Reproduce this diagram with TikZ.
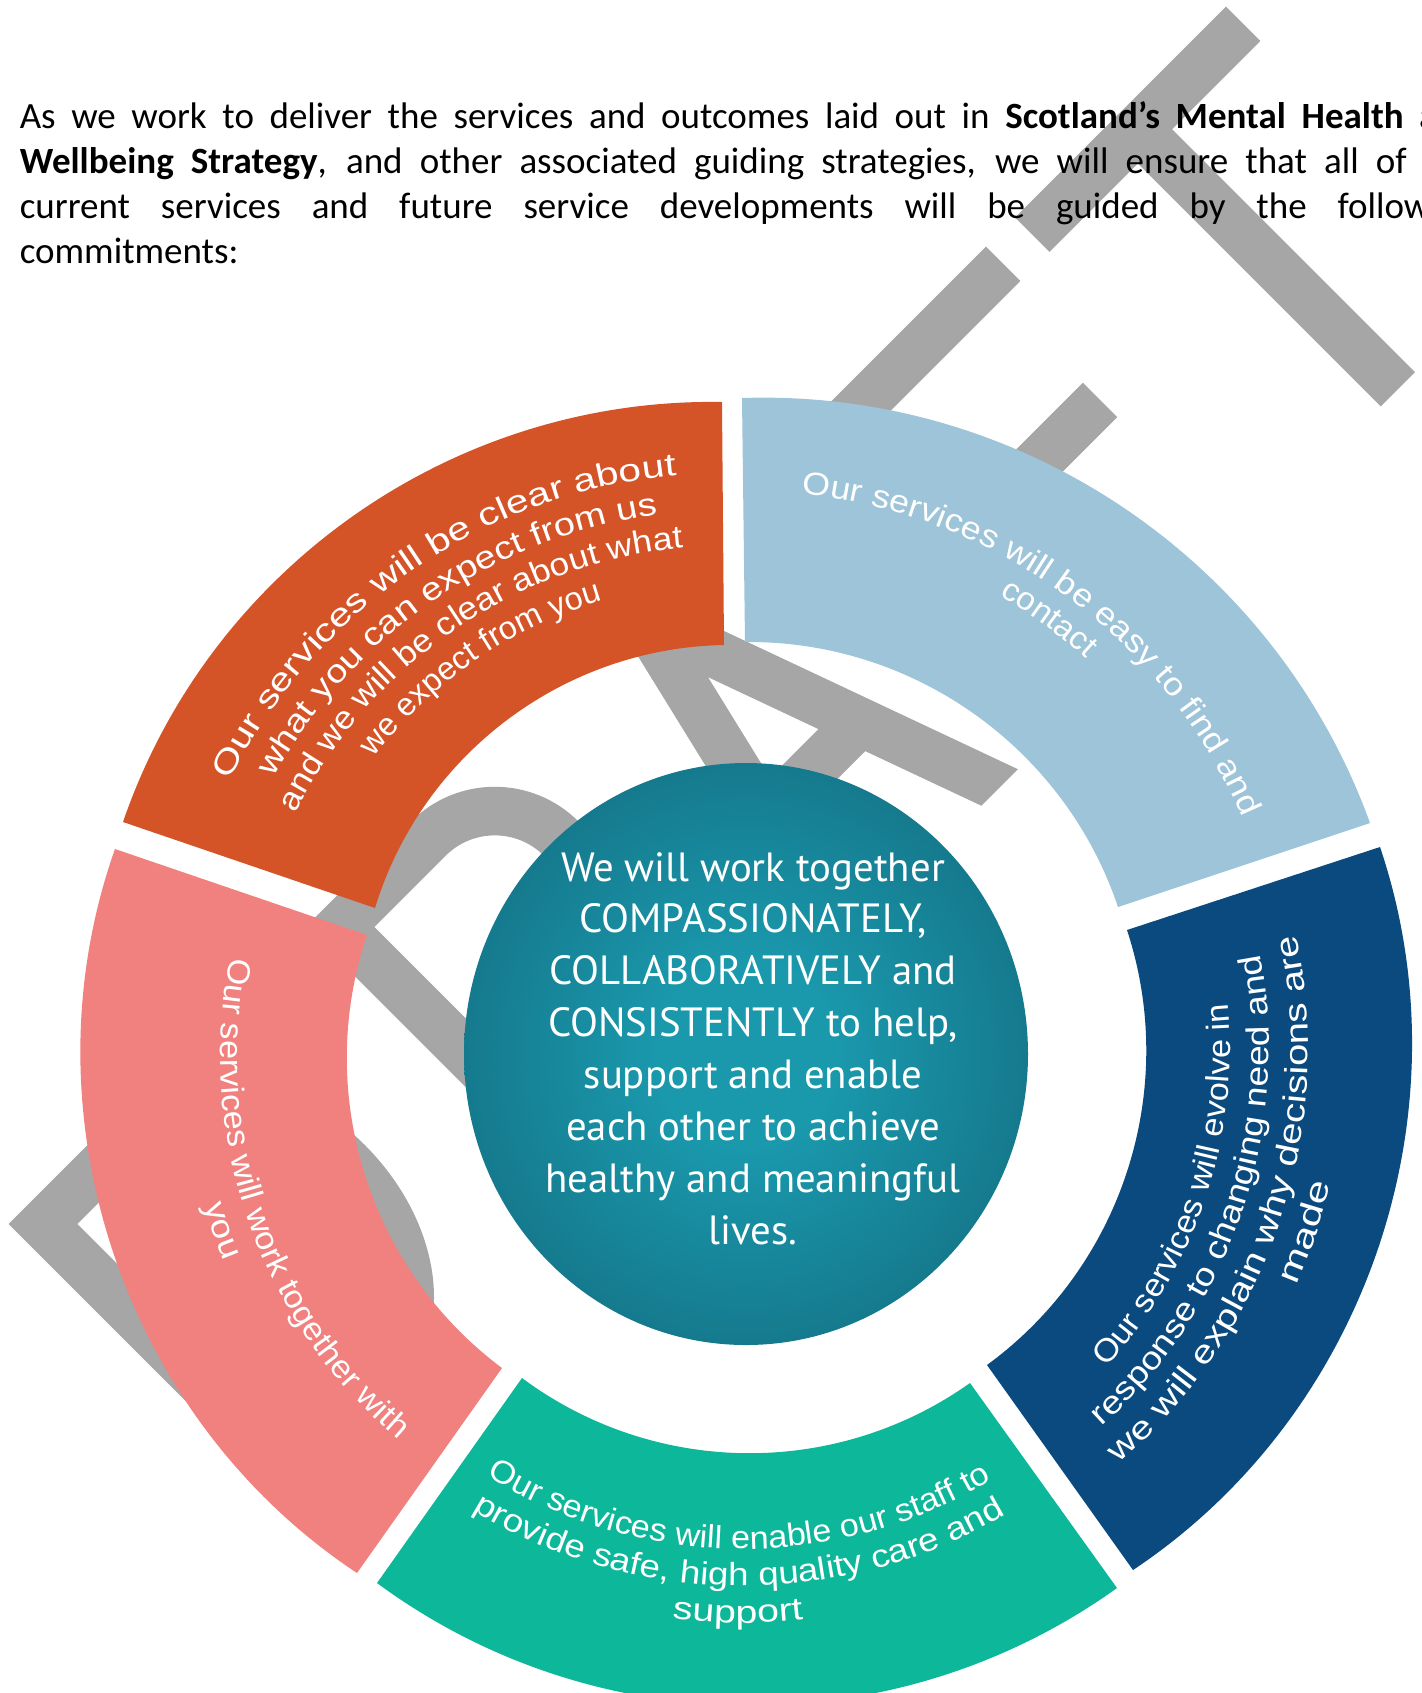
\documentclass[tikz,border=0pt]{standalone}
\usepackage{fontspec}
\setmainfont{Carlito}
\newfontfamily\ctrfont{PT Sans}
\newfontfamily\rfoA[FakeStretch=1.271]{Liberation Sans}
\newfontfamily\rfoB[FakeStretch=1.187]{Liberation Sans}
\newfontfamily\rfoC[FakeStretch=1.104]{Liberation Sans}
\newfontfamily\rfoD[FakeStretch=1.019]{Liberation Sans}
\newfontfamily\rfbA[FakeStretch=1.119]{Liberation Sans}
\newfontfamily\rfbB[FakeStretch=1.045]{Liberation Sans}
\newfontfamily\rfdA[FakeStretch=1.072]{Liberation Sans}
\newfontfamily\rfdB[FakeStretch=1.161]{Liberation Sans}
\newfontfamily\rfdC[FakeStretch=1.251]{Liberation Sans}
\newfontfamily\rfdD[FakeStretch=1.338]{Liberation Sans}
\newfontfamily\rftA[FakeStretch=1.067]{Liberation Sans}
\newfontfamily\rftB[FakeStretch=1.149]{Liberation Sans}
\newfontfamily\rftC[FakeStretch=1.230]{Liberation Sans}
\newfontfamily\rfpA[FakeStretch=1.068]{Liberation Sans}
\newfontfamily\rfpB[FakeStretch=1.147]{Liberation Sans}
\usetikzlibrary{decorations.text}
\definecolor{orng}{RGB}{212,84,40}
\definecolor{lblue}{RGB}{157,196,216}
\definecolor{dblue}{RGB}{10,74,127}
\definecolor{tealg}{RGB}{12,184,153}
\definecolor{pinky}{RGB}{240,129,126}
\definecolor{wmgray}{RGB}{166,166,166}
\definecolor{ctrin}{RGB}{26,152,172}
\definecolor{ctrmid}{RGB}{21,120,140}
\definecolor{ctrout}{RGB}{16,72,90}
\pgfdeclareradialshading{ctrshade}{\pgfpoint{0bp}{0bp}}{color(0bp)=(ctrin); color(8bp)=(ctrin); color(26bp)=(ctrmid); color(35bp)=(ctrout); color(100bp)=(ctrout)}
\newcommand\rsz{\fontsize{16pt}{16pt}\selectfont\color{white}}
\newcommand\rline[5]{\path[decorate,decoration={text along path,text align=center,text={#5}}] (#1) ++(#3:#2) arc[start angle=#3,end angle=#4,radius=#2];}
\begin{document}
\begin{tikzpicture}[x=0.5pt,y=0.5pt,
  body/.style={anchor=base west,inner sep=0pt,font=\fontsize{18.5pt}{22pt}\selectfont},
  ctr/.style={anchor=base,inner sep=0pt,text=white,font=\ctrfont\fontsize{20.4pt}{24pt}\selectfont},
  bnd/.style={looseness=0.94}]
\useasboundingbox (0,0) rectangle (1422,-1693);
\clip (0,0) rectangle (1422,-1693);
\fill[white] (0,0) rectangle (1422,-1693);

% DRAFT watermark
\begin{scope}[shift={(893.5,-893.5)},rotate=45]
  \clip (-1000,0) rectangle (1000,392);
  \begin{scope}[draw=wmgray,line width=24.3pt,line cap=butt,line join=miter]
    \draw (-835,-30) -- (-835,367.7) -- (-700,367.7) arc[start angle=90,end angle=-90,x radius=124,y radius=171.7] -- (-835,24.3);
    \draw (-415,-30) -- (-415,367.7) -- (-290,367.7) arc[start angle=90,end angle=-90,radius=93.85] -- (-415,180);
    \draw (-300,180) -- (-166,-30);
    \draw (-77.6,-30) -- (17,369.3) -- (160.8,-30);
    \draw (-36.1,145) -- (97.8,145);
    \draw (300,-30) -- (300,367.7) -- (522.8,367.7);
    \draw (300,203) -- (495,203);
    \draw (564,367.7) -- (862.3,367.7);
    \draw (713.2,-30) -- (713.2,367.7);
  \end{scope}
\end{scope}

% body text
\node[body] (p1) at (19.4,-128.3) {\makebox[728pt][s]{As we work to deliver the services and outcomes laid out in \textbf{Scotland’s Mental Health} and}};
\node[body] (p2) at (19.4,-173.3) {\makebox[728pt][s]{\textbf{Wellbeing Strategy}, and other associated guiding strategies, we will ensure that all of our}};
\node[body] (p3) at (19.4,-218.3) {\makebox[728pt][s]{current services and future service developments will be guided by the following}};
\node[body] (p4) at (19.4,-263.3) {commitments:};

% ring segments
\fill[orng] (123,-822) to[bend left=36,bnd] (722,-402) -- (724,-645) to[bend right=36,bnd] (375,-908) -- cycle;
\fill[lblue] (742,-398) to[bend left=36,bnd] (1370,-823) -- (1118,-907) to[bend right=36,bnd] (745,-642) -- cycle;
\fill[dblue] (1380,-847) to[bend left=37.5,bnd] (1133,-1570) -- (987,-1365) to[bend right=36,bnd] (1127,-930) -- cycle;
\fill[tealg] (1117,-1588) to[bend left=36,bnd] (377,-1583) -- (522,-1378) to[bend right=36,bnd] (970,-1383) -- cycle;
\fill[pinky] (357,-1573) to[bend left=38,bnd] (115,-849) -- (367,-935) to[bend right=36,bnd] (502,-1368) -- cycle;

% ring texts
\rline{727,-1028}{555}{169.4}{79.4}{|\rfoA\rsz|Our services will be clear about}
\rline{727,-1028}{518}{169.4}{79.4}{|\rfoB\rsz|what you can expect from us}
\rline{727,-1028}{482}{169.4}{79.4}{|\rfoC\rsz|and we will be clear about what}
\rline{727,-1028}{445}{169.4}{79.4}{|\rfoD\rsz|we expect from you}

\rline{746,-1031}{540}{98.7}{8.7}{|\rfbA\rsz|Our services will be easy to find and}
\rline{746,-1031}{504}{98.7}{8.7}{|\rfbB\rsz|contact}

\rline{762,-1050}{468}{-63.5}{26.5}{|\rfdA\rsz|Our services will evolve in}
\rline{762,-1050}{507}{-63.5}{26.5}{|\rfdB\rsz|response to changing need and}
\rline{762,-1050}{546}{-63.5}{26.5}{|\rfdC\rsz|we will explain why decisions are}
\rline{762,-1050}{584}{-63.5}{26.5}{|\rfdD\rsz|made}

\rline{742.7,-1066}{483}{224.5}{314.5}{|\rftA\rsz|Our services will enable our staff to}
\rline{742.7,-1066}{520}{224.5}{314.5}{|\rftB\rsz|provide safe, high quality care and}
\rline{742.7,-1066}{557}{224.5}{314.5}{|\rftC\rsz|support}

\rline{722.5,-1056}{502}{154.2}{244.2}{|\rfpA\rsz|Our services will work together with}
\rline{722.5,-1056}{539}{154.2}{244.2}{|\rfpB\rsz|you}

% centre circle
\shade[shading=ctrshade] (746,-1054) ellipse[x radius=282,y radius=291];
\node[ctr] (c1) at (753,-881) {We will work together};
\node[ctr] (c2) at (753,-932.9) {COMPASSIONATELY,};
\node[ctr] (c3) at (753,-984.8) {COLLABORATIVELY and};
\node[ctr] (c4) at (753,-1036.7) {CONSISTENTLY to help,};
\node[ctr] (c5) at (753,-1088.6) {support and enable};
\node[ctr] (c6) at (753,-1140.5) {each other to achieve};
\node[ctr] (c7) at (753,-1192.4) {healthy and meaningful};
\node[ctr] (c8) at (753,-1244.3) {lives.};
\end{tikzpicture}
\end{document}
